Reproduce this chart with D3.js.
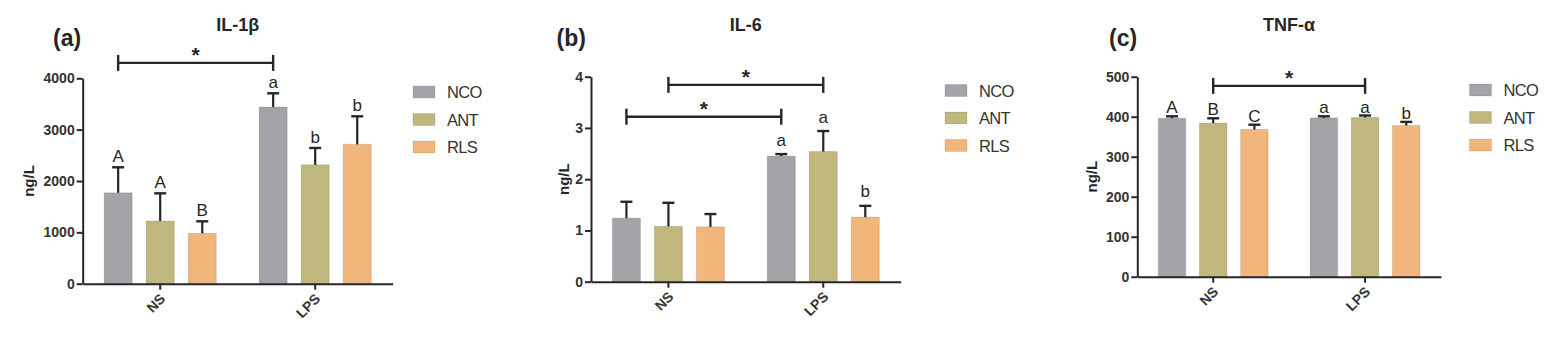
<!DOCTYPE html>
<html><head><meta charset="utf-8">
<script src="https://cdn.jsdelivr.net/npm/d3@7"></script>
<style>
html,body{margin:0;padding:0;background:#fff;}
svg{display:block;font-family:"Liberation Sans",Arial,Helvetica,sans-serif;}
</style></head><body>
<svg id="chart" width="1551" height="342"></svg>
<script>
// ---------- data ----------
const groups = ["NS", "LPS"];
const series = ["NCO", "ANT", "RLS"];
const colors = ["#a3a3a8", "#bfb77d", "#f1b67c"];

const il1bMean = [[1770, 1220, 980], [3440, 2315, 2715]];
const il1bSD = [[497, 540, 235], [268, 328, 545]];
const il1bLetters = [["A", "A", "B"], ["a", "b", "b"]];
const il1bTicks = [0, 1000, 2000, 3000, 4000];
const il1bSig = [{from: [0, 0], to: [1, 0], y: 4300}];

const il6Mean = [[1.24, 1.08, 1.07], [2.45, 2.54, 1.26]];
const il6SD = [[0.32, 0.46, 0.25], [0.04, 0.40, 0.22]];
const il6Letters = [["", "", ""], ["a", "a", "b"]];
const il6Ticks = [0, 1, 2, 3, 4];
const il6Sig = [{from: [0, 0], to: [1, 0], y: 3.22}, {from: [0, 1], to: [1, 1], y: 3.84}];

const tnfMean = [[396, 384, 368], [397, 398, 378]];
const tnfSD = [[5, 12, 12], [4, 5, 9]];
const tnfLetters = [["A", "B", "C"], ["a", "a", "b"]];
const tnfTicks = [0, 100, 200, 300, 400, 500];
const tnfSig = [{from: [0, 1], to: [1, 1], y: 477}];

// ---------- layout ----------
const panels = [
  {tag: "(a)", title: "IL-1\u03b2", mean: il1bMean, sd: il1bSD, letters: il1bLetters, ticks: il1bTicks, sig: il1bSig,
   x0: 82.7, x1: 392.7, y0: 283.7, y1: 78.3, tagX: 53, ylabX: 28, legX: 413, legY: 92, letterGap: 5},
  {tag: "(b)", title: "IL-6", mean: il6Mean, sd: il6SD, letters: il6Letters, ticks: il6Ticks, sig: il6Sig,
   x0: 591, x1: 900.7, y0: 281.7, y1: 76.7, tagX: 556.5, ylabX: 563.5, legX: 945, legY: 90.5, letterGap: 8.5},
  {tag: "(c)", title: "TNF-\u03b1", mean: tnfMean, sd: tnfSD, letters: tnfLetters, ticks: tnfTicks, sig: tnfSig,
   x0: 1137.3, x1: 1441, y0: 276.7, y1: 76.7, tagX: 1109, ylabX: 1091.5, legX: 1469.5, legY: 90, letterGap: 3}
];

const svg = d3.select("#chart");
const ink = "#262626";

panels.forEach(p => {
  const g = svg.append("g");
  const x = d3.scaleBand().domain(groups).range([p.x0, p.x1]).padding(0);
  const xs = d3.scaleBand().domain(series).range([0, x.bandwidth()]).paddingInner(1 / 3).paddingOuter(0.51);
  const y = d3.scaleLinear().domain([0, d3.max(p.ticks)]).range([p.y0, p.y1]);
  const cx = (gi, si) => x(groups[gi]) + xs(series[si]) + xs.bandwidth() / 2;

  // bars
  groups.forEach((grp, gi) => {
    series.forEach((s, si) => {
      const v = p.mean[gi][si], e = p.sd[gi][si];
      g.append("rect")
        .attr("x", x(grp) + xs(s)).attr("width", xs.bandwidth())
        .attr("y", y(v)).attr("height", y(0) - y(v))
        .attr("fill", colors[si]).attr("stroke", "rgba(0,0,0,0.12)").attr("stroke-width", 1);
      const c = cx(gi, si);
      g.append("line").attr("x1", c).attr("x2", c).attr("y1", y(v)).attr("y2", y(v + e))
        .attr("stroke", ink).attr("stroke-width", 2.2);
      g.append("line").attr("x1", c - 6).attr("x2", c + 6).attr("y1", y(v + e)).attr("y2", y(v + e))
        .attr("stroke", ink).attr("stroke-width", 2.4);
      const L = p.letters[gi][si];
      if (L) {
        g.append("text").attr("x", c).attr("y", y(v + e) - p.letterGap)
          .attr("text-anchor", "middle").attr("font-size", 17).attr("fill", ink).text(L);
      }
    });
  });

  // y axis
  const ya = g.append("g").attr("transform", `translate(${p.x0},0)`)
    .call(d3.axisLeft(y).tickValues(p.ticks).tickSize(6).tickSizeOuter(0).tickPadding(2).tickFormat(d3.format("d")));
  ya.attr("font-size", null).attr("font-family", null);
  ya.select(".domain").attr("stroke", ink).attr("stroke-width", 2);
  ya.selectAll(".tick line").attr("stroke", ink).attr("stroke-width", 2);
  ya.selectAll(".tick text").attr("font-size", 14).attr("font-weight", "bold").attr("fill", "#333");

  // x axis
  const xa = g.append("g").attr("transform", `translate(0,${p.y0})`)
    .call(d3.axisBottom(x).tickSize(6).tickSizeOuter(0));
  xa.select(".domain").attr("stroke", ink).attr("stroke-width", 2);
  xa.selectAll(".tick line").attr("stroke", ink).attr("stroke-width", 2);
  xa.selectAll(".tick text").remove();
  groups.forEach(grp => {
    const tx = x(grp) + x.bandwidth() / 2;
    g.append("text").attr("transform", `translate(${tx + 6},${p.y0 + 16}) rotate(-45)`)
      .attr("text-anchor", "end").attr("font-size", 14).attr("font-weight", "bold").attr("fill", "#333").text(grp);
  });

  // y label
  g.append("text").attr("transform", `translate(${p.ylabX + 5.5},${(p.y0 + p.y1) / 2}) rotate(-90)`)
    .attr("text-anchor", "middle").attr("font-size", 15).attr("font-weight", "bold").attr("fill", ink).text("ng/L");

  // title & tag
  g.append("text").attr("x", (p.x0 + p.x1) / 2).attr("y", 31).attr("text-anchor", "middle")
    .attr("font-size", 18).attr("font-weight", "bold").attr("fill", ink).text(p.title);
  g.append("text").attr("x", p.tagX).attr("y", 46).attr("font-size", 23).attr("font-weight", "bold")
    .attr("fill", ink).text(p.tag);

  // significance brackets
  p.sig.forEach(s => {
    const xa1 = cx(s.from[0], s.from[1]), xa2 = cx(s.to[0], s.to[1]), yy = y(s.y);
    g.append("line").attr("x1", xa1).attr("x2", xa2).attr("y1", yy).attr("y2", yy).attr("stroke", ink).attr("stroke-width", 2.4);
    [xa1, xa2].forEach(xx => g.append("line").attr("x1", xx).attr("x2", xx).attr("y1", yy - 8).attr("y2", yy + 8)
      .attr("stroke", ink).attr("stroke-width", 2.4));
    g.append("text").attr("x", (xa1 + xa2) / 2).attr("y", yy - 1).attr("text-anchor", "middle")
      .attr("font-size", 21).attr("font-weight", "bold").attr("fill", ink).text("*");
  });

  // legend
  series.forEach((s, si) => {
    const ly = p.legY + si * 27.5;
    g.append("rect").attr("x", p.legX).attr("y", ly - 6).attr("width", 22).attr("height", 12)
      .attr("fill", colors[si]).attr("stroke", "rgba(0,0,0,0.1)");
    g.append("text").attr("x", p.legX + 34).attr("y", ly + 6).attr("font-size", 16.5).attr("fill", "#333")
      .attr("letter-spacing", -0.7).text(s);
  });
});
</script>
</body></html>
